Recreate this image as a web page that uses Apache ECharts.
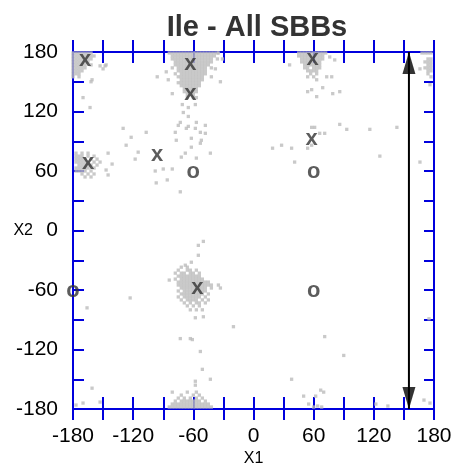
<!DOCTYPE html>
<html>
<head>
<meta charset="utf-8">
<script src="https://cdn.jsdelivr.net/npm/echarts@6/dist/echarts.min.js"></script>
<style>
  html, body { margin: 0; padding: 0; background: #fff; }
  #chart { width: 455px; height: 465px; }
</style>
</head>
<body>
<div id="chart"></div>
<script>
// Axis ranges and tick labels
const xTicks = [-180, -120, -60, 0, 60, 120, 180];
const yTicks = [-180, -120, -60, 0, 60, 120, 180];

// Dense regions of observed (X1, X2) pairs, stored as [X2, [X1 ...]] rows
const clusterTopMid = [
  [179, [-84,-81,-78,-75,-72,-69,-66,-63,-60,-57,-54,-51,-48,-45,-42,-39,-36]],
  [176, [-81,-78,-75,-72,-69,-66,-63,-60,-57,-54,-51,-48,-45,-42,-39]],
  [173, [-81,-78,-75,-72,-69,-66,-63,-60,-57,-54,-51,-48,-45,-42,-36]],
  [170, [-78,-75,-72,-69,-66,-63,-60,-57,-54,-51,-48,-45,-42]],
  [167, [-78,-75,-72,-69,-66,-63,-60,-57,-54,-51,-48,-45]],
  [164, [-81,-75,-72,-69,-66,-63,-60,-57,-54,-51,-48,-42]],
  [161, [-75,-72,-69,-66,-63,-60,-57,-54,-51,-48]],
  [158, [-78,-72,-69,-66,-63,-60,-57,-54,-51,-48]],
  [155, [-75,-72,-69,-66,-63,-60,-57,-54,-51]],
  [152, [-72,-69,-66,-63,-60,-57,-54,-51]],
  [149, [-75,-72,-69,-66,-63,-60,-57,-54]],
  [146, [-72,-69,-66,-63,-60,-57,-54]],
  [143, [-69,-66,-63,-60,-57]],
  [140, [-69,-66,-63,-60,-57]],
  [137, [-66,-63,-60]],
  [134, [-66,-60,-57]]
];
const clusterTopLeft = [
  [179, [-180,-177,-174,-171,-168,-165,-162]],
  [176, [-180,-177,-174,-171,-168,-165,-162,-159]],
  [173, [-180,-177,-174,-171,-168,-165,-162]],
  [170, [-180,-177,-174,-171,-168,-165]],
  [167, [-180,-177,-174,-171,-168,-162]],
  [164, [-180,-177,-174,-171,-168]],
  [161, [-180,-177,-174,-171]],
  [158, [-180,-177,-174]],
  [155, [-180,-174]]
];
const clusterTopRight = [
  [179, [45,48,51,54,57,60,63,66,69,72]],
  [176, [45,48,51,54,57,60,63,66,69]],
  [173, [48,51,54,57,60,63,66,69]],
  [170, [48,51,54,57,60,63,66]],
  [167, [51,54,57,60,63,66]],
  [164, [51,54,60,63,66]],
  [161, [54,57,60,63]],
  [158, [57,63]],
  [155, [54,60]]
];
const clusterEdge = [
  [179, [168,171,174,177]],
  [173, [174,177]],
  [170, [171,174,177]],
  [167, [174,177]],
  [164, [171,174,177]],
  [161, [174,177]],
  [158, [174]],
  [155, [177]]
];
const clusterLeft = [
  [78, [-177,-171,-165]],
  [75, [-177,-174,-171,-165,-159]],
  [72, [-177,-174,-171,-168,-162,-156]],
  [69, [-177,-174,-171,-168,-165,-159,-153]],
  [66, [-174,-171,-168,-165,-162,-156]],
  [63, [-177,-174,-171,-168,-165,-159]],
  [60, [-177,-174,-171,-168,-162]],
  [57, [-171,-165,-159]],
  [54, [-168,-162]]
];
const clusterMid = [
  [-37, [-72,-66]],
  [-40, [-75,-66,-63,-57]],
  [-43, [-78,-72,-69,-63,-60,-54]],
  [-46, [-75,-72,-69,-66,-63,-60,-57,-54]],
  [-49, [-78,-72,-69,-66,-63,-60,-57,-54,-51]],
  [-52, [-75,-72,-69,-66,-63,-60,-57,-54,-51,-48,-45]],
  [-55, [-75,-72,-69,-66,-63,-60,-57,-54,-51,-48,-45,-42]],
  [-58, [-72,-69,-66,-63,-60,-57,-54,-51,-48,-42]],
  [-61, [-75,-69,-66,-63,-60,-57,-54,-51,-48]],
  [-64, [-72,-69,-66,-63,-60,-57,-54,-51,-45]],
  [-67, [-75,-69,-66,-63,-60,-57,-54,-48]],
  [-70, [-72,-66,-63,-60,-57,-51,-45]],
  [-73, [-69,-63,-57,-54,-48]],
  [-76, [-66,-60,-54]],
  [-80, [-63,-57,-51]]
];
const clusterBottom = [
  [-178, [-84,-81,-78,-75,-72,-69,-66,-63,-60,-57,-54,-51,-48,-45,-42]],
  [-175, [-81,-78,-75,-72,-69,-66,-63,-60,-57,-54,-51,-48,-45]],
  [-172, [-78,-72,-69,-66,-63,-60,-57,-54,-48]],
  [-169, [-75,-69,-63,-57,-51]],
  [-166, [-72,-60,-54]],
  [-163, [-66,-57,-81]]
];

// Isolated observations
const scattered = [
  [-87,160],[-85,152],[-96,155],[-81,138],[-42,155],[-33,150],[-38,163],[-35,179],[-31,173],
  [-71,127],[-65,124],[-58,127],[-70,119],[-65,115],[-73,109],[-65,105],[-58,103],[-48,106],
  [-78,99],[-53,99],[-48,98],[-75,106],[-67,103],[-57,109],[-77,91],[-62,93],[-52,91],
  [-62,84],[-68,78],[-43,78],[-57,73],[-72,74],[-73,39],[-53,88],
  [-130,103],[-122,94],[-107,99],[-127,86],[-115,79],[-118,72],[-98,60],[-97,48],[-90,62],
  [-81,62],[-86,51],
  [-153,166],[-148,166],[-150,163],[-161,152],[-170,134],[-163,124],[-147,167],[-162,150],
  [-145,78],[-141,67],[-147,61],[-145,56],
  [36,167],[76,175],[81,172],[73,155],[78,155],[63,152],[69,144],[54,140],[63,135],[86,140],
  [58,142],[79,138],
  [58,104],[61,104],[66,98],[71,98],[58,86],[54,83],[41,69],[19,83],[28,86],[38,83],
  [86,107],[93,102],[116,102],[143,104],[126,75],[166,69],
  [166,163],[176,147],
  [-50,-11],[-55,-15],[-55,-25],[-62,-32],[-68,-35],[-84,-50],[-35,-55],[-33,-58],
  [-20,-97],[-73,-109],[-63,-109],[-50,-87],[-58,-88],[-123,-68],[-166,-78],
  [-161,-159],[-153,-173],[-170,-174],[-177,-176],
  [-61,-110],[-53,-122],[-51,-140],[-58,-152],[-43,-150],[-58,-156],
  [71,-107],[90,-126],[38,-150],[67,-161],[70,-163],[50,-167],[62,-167],[55,-175],
  [64,-177],[68,-178],[60,-178],[122,-175],[134,-177],[170,-171],[176,-174],[175,-89]
];

// Labelled reference positions
const markX = [[-168,173],[-63,169],[-63,139],[59,174],[-165,69],[-96,77],[58,93],[-56,-57]];
const markO = [[-60,60],[60,60],[60,-60],[-180,-60]];

// Double-headed arrow spanning the full X2 range
const arrowX1 = 155;
const arrowSpan = [-180, 180];

function rowsToPoints(rows) {
  const out = [];
  rows.forEach(([y, xs]) => xs.forEach(x => out.push([x, y])));
  return out;
}

const grayPoints = [].concat(
  rowsToPoints(clusterTopMid),
  rowsToPoints(clusterTopLeft),
  rowsToPoints(clusterTopRight),
  rowsToPoints(clusterEdge),
  rowsToPoints(clusterLeft),
  rowsToPoints(clusterMid),
  rowsToPoints(clusterBottom),
  scattered
);

const FONT = '"Liberation Sans", Arial, sans-serif';
const BLUE = '#0000dd';

const chart = echarts.init(document.getElementById('chart'), null, { renderer: 'canvas' });

function axisBase(extra) {
  return Object.assign({
    type: 'value', min: -180, max: 180, interval: 30,
    axisLine: { show: true, onZero: false, lineStyle: { color: BLUE, width: 2 } },
    splitLine: { show: false },
    axisLabel: { show: false },
    axisTick: { show: true, lineStyle: { color: BLUE, width: 2 } }
  }, extra);
}

const tickX = v => (xTicks.indexOf(v) >= 0 ? String(v) : '');
const tickY = v => (yTicks.indexOf(v) >= 0 ? String(v) : '');

// Arrow heads as oriented triangles at both ends of the span
const arrowHeads = [
  { value: [arrowX1, arrowSpan[1]], symbolRotate: 0, symbolOffset: [0, 11] },
  { value: [arrowX1, arrowSpan[0]], symbolRotate: 180, symbolOffset: [0, -11] }
];

const markLabel = (glyph) => ({
  show: true, position: 'inside', formatter: glyph, offset: [0, 1],
  fontFamily: FONT, fontSize: 22, fontWeight: 'bold', color: '#333333'
});

chart.setOption({
  animation: false,
  backgroundColor: '#ffffff',
  title: {
    text: 'Ile - All SBBs',
    left: 252, top: 8, textAlign: 'center',
    textStyle: { fontFamily: FONT, fontSize: 29, fontWeight: 'bold', color: '#333333' }
  },
  grid: { left: 73, right: 21, top: 52, bottom: 56, outerBoundsMode: 'none', containLabel: false },
  xAxis: [
    axisBase({
      position: 'bottom',
      axisTick: { show: true, inside: false, length: 11, lineStyle: { color: BLUE, width: 2 } },
      axisLabel: { show: true, formatter: tickX, margin: 17, fontFamily: FONT, fontSize: 21, color: '#000' },
      name: 'X1', nameLocation: 'middle', nameGap: 42, nameMoveOverlap: false,
      nameTextStyle: { fontFamily: FONT, fontSize: 16, color: '#000' }
    }),
    axisBase({ position: 'bottom', axisTick: { show: true, inside: true, length: 12, lineStyle: { color: BLUE, width: 2 } } }),
    axisBase({ position: 'top', axisTick: { show: true, inside: false, length: 12, lineStyle: { color: BLUE, width: 2 } } }),
    axisBase({ position: 'top', axisTick: { show: true, inside: true, length: 11, lineStyle: { color: BLUE, width: 2 } } })
  ],
  yAxis: [
    axisBase({
      position: 'left',
      axisTick: { show: true, inside: true, length: 11, lineStyle: { color: BLUE, width: 2 } },
      axisLabel: { show: true, formatter: tickY, margin: 15, fontFamily: FONT, fontSize: 21, color: '#000' },
      name: 'X2', nameLocation: 'middle', nameGap: 40, nameRotate: 0, nameMoveOverlap: false,
      nameTextStyle: { fontFamily: FONT, fontSize: 16, color: '#000' }
    }),
    axisBase({ position: 'right', axisTick: { show: true, inside: true, length: 10, lineStyle: { color: BLUE, width: 2 } } })
  ],
  series: [
    {
      type: 'scatter', xAxisIndex: 0, yAxisIndex: 0,
      data: grayPoints, symbol: 'rect', symbolSize: 3.3, clip: false,
      itemStyle: { color: '#bbbbbb' }, silent: true, z: 3
    },
    {
      type: 'line', xAxisIndex: 0, yAxisIndex: 0,
      data: [[arrowX1, arrowSpan[0]], [arrowX1, arrowSpan[1]]],
      showSymbol: false, symbol: 'none', clip: false,
      lineStyle: { color: '#000', width: 2 }, silent: true, z: 4
    },
    {
      type: 'scatter', xAxisIndex: 0, yAxisIndex: 0,
      data: arrowHeads, symbol: 'triangle', symbolSize: [13, 22], clip: false,
      itemStyle: { color: '#000' }, silent: true, z: 4
    },
    {
      type: 'scatter', xAxisIndex: 0, yAxisIndex: 0,
      data: markX, symbolSize: 0, clip: false, silent: true, z: 5,
      label: markLabel('x')
    },
    {
      type: 'scatter', xAxisIndex: 0, yAxisIndex: 0,
      data: markO, symbolSize: 0, clip: false, silent: true, z: 5,
      label: markLabel('o')
    }
  ]
});
</script>
</body>
</html>
